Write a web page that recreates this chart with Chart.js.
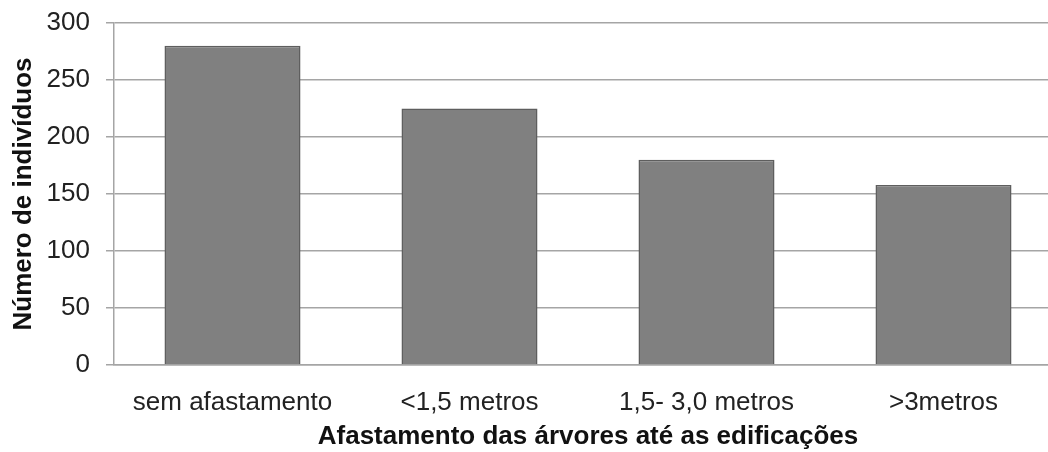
<!DOCTYPE html>
<html>
<head>
<meta charset="utf-8">
<script src="https://cdn.jsdelivr.net/npm/chart.js@4/dist/chart.umd.min.js"></script>
<style>
  html, body { margin: 0; padding: 0; background: #fff; overflow: hidden; }
  #wrap { width: 1064px; height: 452px; position: relative; }
</style>
</head>
<body>
<div id="wrap"><canvas id="c"></canvas></div>
<script>
const categories = ['sem afastamento', '<1,5 metros', '1,5- 3,0 metros', '>3metros'];
const individuos = [280, 225, 180, 158];
const yTicks = [0, 50, 100, 150, 200, 250, 300];

const FONT = "'Liberation Sans', Arial, sans-serif";

new Chart(document.getElementById('c'), {
  type: 'bar',
  data: {
    labels: categories,
    datasets: [{
      data: individuos,
      backgroundColor: '#808080',
      borderColor: '#5e5e5e',
      borderWidth: 1.5,
      categoryPercentage: 1,
      barPercentage: 0.574
    }]
  },
  options: {
    responsive: true,
    maintainAspectRatio: false,
    animation: false,
    layout: { padding: { top: 23, right: 2, left: 0, bottom: 0 } },
    plugins: { legend: { display: false }, tooltip: { enabled: false } },
    scales: {
      x: {
        grid: { display: false },
        border: { display: true, color: '#a5a5a5', width: 1.5 },
        ticks: { color: '#222', font: { family: FONT, size: 26 }, padding: 14, maxRotation: 0 },
        title: {
          display: true,
          text: 'Afastamento das árvores até as edificações',
          color: '#111',
          font: { family: FONT, size: 26, weight: 'bold' },
          padding: { top: 2, bottom: 0 }
        },
        afterFit: (s) => { s.height = 87; }
      },
      y: {
        min: 0,
        max: 300,
        afterBuildTicks: (s) => { s.ticks = yTicks.map(v => ({ value: v })); },
        grid: { color: '#a5a5a5', lineWidth: 1.5, tickLength: 8, drawTicks: true },
        border: { display: true, color: '#a5a5a5', width: 1.5 },
        ticks: { color: '#222', font: { family: FONT, size: 26 }, padding: 16 },
        title: {
          display: true,
          text: 'Número de indivíduos',
          color: '#111',
          font: { family: FONT, size: 26, weight: 'bold' },
          padding: { top: 8, bottom: 0 }
        },
        afterFit: (s) => { s.width = 114; s.paddingTop = 0; s.paddingBottom = 0; }
      }
    }
  }
});
</script>
</body>
</html>
